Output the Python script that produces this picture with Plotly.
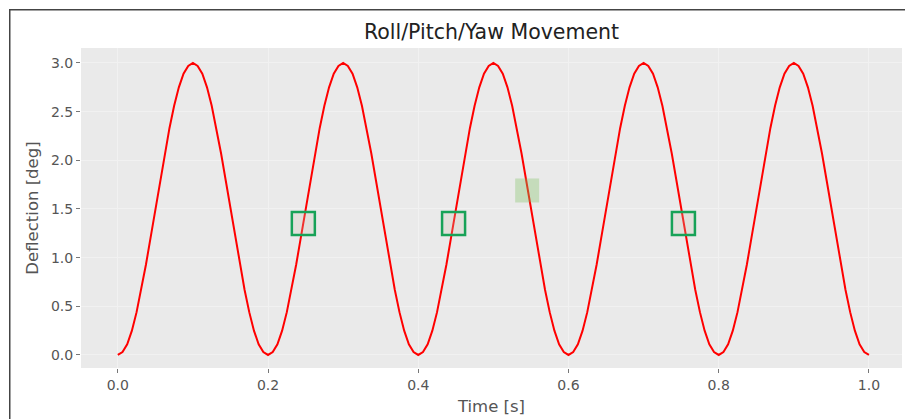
import plotly.graph_objects as go

time_s = [round(i * 0.00625, 5) for i in range(161)]
deflection = [
    0.0, 0.03, 0.11, 0.25, 0.44, 0.67, 0.93, 1.21, 1.5, 1.79, 2.07, 2.33, 2.56, 2.75, 2.89, 2.97,
    3.0, 2.97, 2.89, 2.75, 2.56, 2.33, 2.07, 1.79, 1.5, 1.21, 0.93, 0.67, 0.44, 0.25, 0.11, 0.03,
    0.0, 0.03, 0.11, 0.25, 0.44, 0.67, 0.93, 1.21, 1.5, 1.79, 2.07, 2.33, 2.56, 2.75, 2.89, 2.97,
    3.0, 2.97, 2.89, 2.75, 2.56, 2.33, 2.07, 1.79, 1.5, 1.21, 0.93, 0.67, 0.44, 0.25, 0.11, 0.03,
    0.0, 0.03, 0.11, 0.25, 0.44, 0.67, 0.93, 1.21, 1.5, 1.79, 2.07, 2.33, 2.56, 2.75, 2.89, 2.97,
    3.0, 2.97, 2.89, 2.75, 2.56, 2.33, 2.07, 1.79, 1.5, 1.21, 0.93, 0.67, 0.44, 0.25, 0.11, 0.03,
    0.0, 0.03, 0.11, 0.25, 0.44, 0.67, 0.93, 1.21, 1.5, 1.79, 2.07, 2.33, 2.56, 2.75, 2.89, 2.97,
    3.0, 2.97, 2.89, 2.75, 2.56, 2.33, 2.07, 1.79, 1.5, 1.21, 0.93, 0.67, 0.44, 0.25, 0.11, 0.03,
    0.0, 0.03, 0.11, 0.25, 0.44, 0.67, 0.93, 1.21, 1.5, 1.79, 2.07, 2.33, 2.56, 2.75, 2.89, 2.97,
    3.0, 2.97, 2.89, 2.75, 2.56, 2.33, 2.07, 1.79, 1.5, 1.21, 0.93, 0.67, 0.44, 0.25, 0.11, 0.03,
    0.0,
]

# Highlighted points (open green squares)
box_x = [0.247, 0.447, 0.753]
box_y = [1.35, 1.35, 1.35]
# Faded filled square
faded_x = [0.545]
faded_y = [1.69]

x_ticks = [0.0, 0.2, 0.4, 0.6, 0.8, 1.0]
y_ticks = [0.0, 0.5, 1.0, 1.5, 2.0, 2.5, 3.0]

fig = go.Figure()
fig.add_trace(go.Scatter(
    x=time_s, y=deflection, mode="lines",
    line=dict(color="#FF0000", width=2),
    showlegend=False, hoverinfo="skip",
))
fig.add_trace(go.Scatter(
    x=faded_x, y=faded_y, mode="markers",
    marker=dict(symbol="square", size=24, color="rgba(130,195,100,0.35)",
                line=dict(width=0)),
    showlegend=False,
))
fig.add_trace(go.Scatter(
    x=box_x, y=box_y, mode="markers",
    marker=dict(symbol="square", size=23, color="rgba(200,190,170,0.25)",
                line=dict(color="#17A257", width=2.5)),
    showlegend=False,
))

axis_common = dict(
    showgrid=True, gridcolor="#F1F1F1", gridwidth=1,
    zeroline=False, showline=False,
    ticks="outside", ticklen=4, tickwidth=1, tickcolor="#777",
    tickfont=dict(family="DejaVu Sans", size=14, color="#555"),
    tickformat=".1f",
)

fig.update_layout(
    width=905, height=419,
    margin=dict(l=81, r=3, t=48, b=51, autoexpand=False),
    paper_bgcolor="white", plot_bgcolor="#EAEAEA",
    title=dict(text="Roll/Pitch/Yaw Movement", x=0.5, xref="paper",
               y=1 - 32 / 419, yanchor="middle",
               font=dict(family="DejaVu Sans", size=20.5, color="#222")),
    xaxis=dict(range=[-0.049, 1.044], tickvals=x_ticks, automargin=False,
               title=dict(text="Time [s]", standoff=8,
                          font=dict(family="DejaVu Sans", size=16.5, color="#555")),
               **axis_common),
    yaxis=dict(range=[-0.134, 3.154], tickvals=y_ticks, automargin=False,
               title=dict(text="Deflection [deg]", standoff=8,
                          font=dict(family="DejaVu Sans", size=16.5, color="#555")),
               **axis_common),
    # figure frame (top and left edges visible; right/bottom fall outside the page)
    annotations=[
        dict(text=" ", showarrow=False, xref="paper", yref="paper",
             x=-0.0877, y=1.1219, xanchor="left", yanchor="top",
             width=1000, height=500, borderpad=0,
             bordercolor="#444", borderwidth=1.5, bgcolor="rgba(0,0,0,0)"),
    ],
)

fig.write_html("out.html")
